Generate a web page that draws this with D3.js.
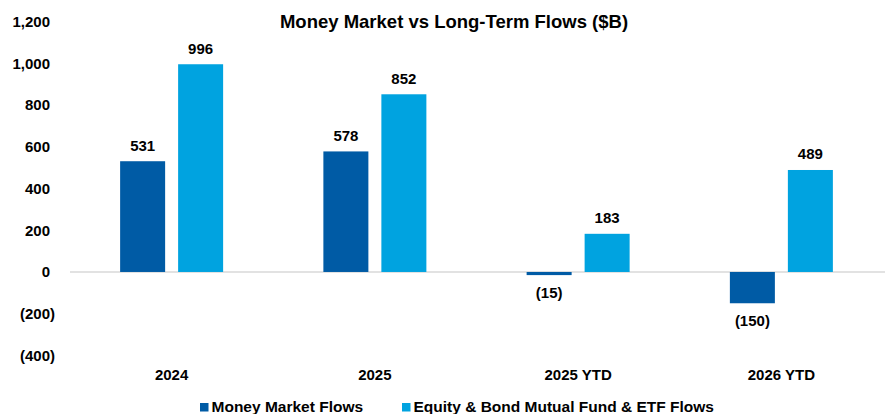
<!DOCTYPE html>
<html>
<head>
<meta charset="utf-8">
<script src="https://cdn.jsdelivr.net/npm/d3@7"></script>
<style>
  html, body { margin: 0; padding: 0; background: #fff; }
  text { font-family: "Liberation Sans", Arial, sans-serif; font-weight: bold; fill: #000; }
</style>
</head>
<body>
<svg id="chart" width="885" height="414"></svg>
<script>
const categories = ["2024", "2025", "2025 YTD", "2026 YTD"];
const seriesNames = ["Money Market Flows", "Equity & Bond Mutual Fund & ETF Flows"];
const moneyMarket = [531, 578, -15, -150];
const equityBond = [996, 852, 183, 489];
const yTicks = [-400, -200, 0, 200, 400, 600, 800, 1000, 1200];
const colors = ["#005BA5", "#00A3E0"];
const title = "Money Market vs Long-Term Flows ($B)";

const svg = d3.select("#chart");
const W = 885, H = 414;

const x = d3.scaleBand().domain(categories).range([70, 883]).padding(0);
const x1 = d3.scaleBand().domain([0, 1]).range([-51.5, 51.5]).paddingInner(0.224).paddingOuter(0);
const y = d3.scaleLinear().domain([-400, 1200]).range([355.4, 21.7]);

const fmt = v => v < 0 ? "(" + d3.format(",")(-v) + ")" : d3.format(",")(v);

// title
svg.append("text").attr("x", 454).attr("y", 28).attr("text-anchor", "middle")
  .style("font-size", "18.5px").text(title);

// y axis
const yAxis = d3.axisLeft(y).tickValues(yTicks).tickFormat(fmt).tickSize(0).tickPadding(0);
const gy = svg.append("g").attr("transform", "translate(55,0)").call(yAxis);
gy.select(".domain").remove();
gy.selectAll("text")
  .style("font-size", "15px").style("font-family", "'Liberation Sans', Arial, sans-serif")
  .style("font-weight", "bold").attr("fill", "#000")
  .attr("x", d => d < 0 ? 0 : -5);

// zero line
svg.append("line").attr("x1", 70).attr("x2", 885).attr("y1", y(0)).attr("y2", y(0))
  .attr("stroke", "#d9d9d9").attr("stroke-width", 1.5);

const data = categories.map((c, i) => ({ cat: c, vals: [moneyMarket[i], equityBond[i]] }));

const groups = svg.append("g").selectAll("g").data(data).join("g")
  .attr("transform", d => `translate(${x(d.cat) + x.bandwidth() / 2},0)`);

groups.selectAll("rect").data(d => d.vals.map((v, k) => ({ v, k }))).join("rect")
  .attr("x", d => x1(d.k))
  .attr("width", x1.bandwidth())
  .attr("y", d => y(Math.max(0, d.v)))
  .attr("height", d => Math.abs(y(d.v) - y(0)))
  .attr("fill", d => colors[d.k]);

groups.selectAll("text.val").data(d => d.vals.map((v, k) => ({ v, k }))).join("text")
  .attr("class", "val")
  .attr("x", d => x1(d.k) + x1.bandwidth() / 2)
  .attr("y", d => d.v >= 0 ? y(d.v) - 10.5 : y(d.v) + 23)
  .attr("text-anchor", "middle")
  .style("font-size", "15px")
  .text(d => fmt(d.v));

// x axis labels
const xAxis = d3.axisBottom(x).tickSize(0).tickPadding(0);
const gx = svg.append("g").attr("transform", "translate(0,368)").call(xAxis);
gx.select(".domain").remove();
gx.selectAll("text").attr("dy", 0).attr("y", 11.5)
  .style("font-size", "15px").style("font-family", "'Liberation Sans', Arial, sans-serif")
  .style("font-weight", "bold").attr("fill", "#000");

// legend
const legendX = [200, 402];
const leg = svg.append("g").selectAll("g").data(seriesNames).join("g")
  .attr("transform", (d, i) => `translate(${legendX[i]},0)`);
leg.append("rect").attr("x", 0).attr("y", 403).attr("width", 8.5).attr("height", 8.5)
  .attr("fill", (d, i) => colors[i]);
leg.append("text").attr("x", 11.5).attr("y", 412).style("font-size", "15.5px").text(d => d);
</script>
</body>
</html>
